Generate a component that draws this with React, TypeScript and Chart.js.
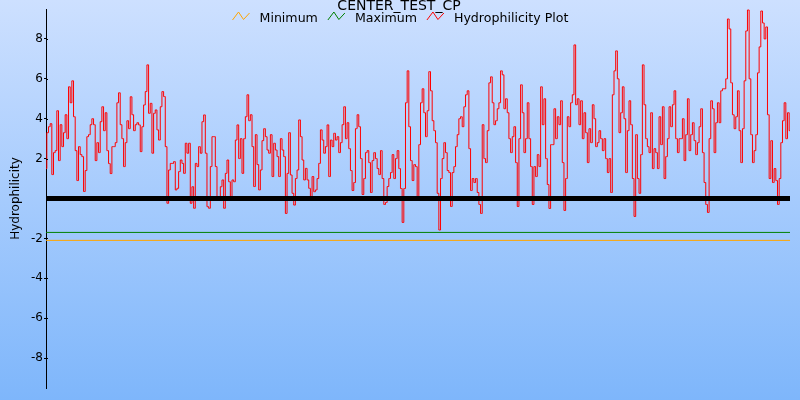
import { useEffect, useRef } from 'react';
import { Chart, registerables } from 'chart.js';

Chart.register(...registerables);

const TITLE = 'CENTER_TEST_CP';
const Y_TITLE = 'Hydrophilicity';
const SERIES_NAMES = ['Minimum', 'Maximum', 'Hydrophilicity Plot'];
const SERIES_COLORS = ['#ffa500', '#008000', '#ff0000'];
const Y_TICKS = [-8, -6, -4, -2, 2, 4, 6, 8];
const Y_MIN = -9.5;
const Y_MAX = 9.5;
const MINIMUM = -2.1;
const MAXIMUM = -1.7;
const BASELINE = 0;

const HYDRO = [
  // x 47-140
  1.5, 3.3, 3.6, 3.75, 1.2, 2.3, 2.4, 4.4, 1.9, 3.7,
  2.6, 3.3, 4.2, 3.0, 5.6, 4.8, 5.9, 4.1, 2.4, 0.9,
  2.6, 2.2, 2.1, 0.35, 1.4, 3.1, 3.2, 3.7, 4.0, 3.7,
  1.9, 2.8, 2.3, 3.85, 4.6, 3.4, 4.3, 2.4, 1.75, 1.25,
  2.6, 2.6, 2.8, 4.8, 5.3, 3.7, 3.0, 1.6, 2.8, 3.9,
  3.5, 5.1, 4.2, 3.4, 3.7, 3.8,
  // x 140-240
  3.69, 2.35, 3.6, 4.69, 5.36, 6.7, 4.27, 4.77, 2.27, 4.27,
  4.44, 3.44, 2.93, 4.6, 5.36, 5.11, 2.6, -0.24, 1.43, 1.76,
  1.76, 1.85, 0.43, 0.51, 1.35, 1.93, 1.76, 1.26, 2.77, 2.27,
  2.77, -0.24, 0.59, -0.49, 1.76, 1.6, 2.6, 2.27, 3.85, 4.19,
  2.27, -0.41, -0.49, 1.6, 3.1, 3.1, 1.6, 0.09, -0.07, 0.59,
  0.93, -0.49, 1.26, 1.93, 0.84, 0.09, 0.93, 0.84, 2.93, 3.69,
  // x 240-340
  2.0, 3.0, 1.26, 3.0, 4.1, 5.2, 3.9, 4.2, 2.6, 0.6,
  3.2, 1.7, 0.43, 1.43, 2.9, 3.5, 3.1, 2.43, 2.27, 3.2,
  1.1, 2.77, 2.43, 2.1, 1.1, 3.0, 2.43, 2.1, -0.75, 1.26,
  3.3, 1.18, 0.26, -0.33, 1.0, 1.43, 3.94, 3.1, 1.93, 0.93,
  1.51, 0.93, 0.51, 0.1, 1.1, 0.34, 0.43, 1.0, 1.76, 3.44,
  2.93, 2.27, 2.6, 3.69, 1.1, 2.93, 2.6, 3.27, 2.93, 3.1,
  // x 340-440
  2.3, 2.8, 3.7, 4.6, 3.0, 3.8, 2.5, 1.4, 0.4, 0.8,
  3.5, 4.2, 3.6, 2.0, 0.2, 1.0, 2.3, 2.4, 1.8, 0.3,
  1.9, 2.3, 2.0, 1.5, 1.2, 2.4, 1.0, -0.3, -0.2, 0.6,
  1.0, 1.3, 2.2, 1.0, 2.0, 2.4, 1.5, 0.5, -1.2, 0.5,
  4.8, 6.4, 3.6, 1.9, 0.9, 1.7, 1.6, -0.1, 2.7, 4.8,
  5.5, 4.3, 3.1, 4.4, 6.36, 5.4, 3.9, 3.4, 2.8, 0.26,
  // x 440-540
  -1.58, 1.0, 2.0, 2.8, 2.3, 1.4, 1.3, -0.4, 1.3, 1.6,
  2.6, 3.2, 4.0, 4.1, 3.6, 4.6, 5.2, 5.4, 2.5, 0.4,
  1.0, 0.8, 1.0, 0.3, -0.3, -0.75, 3.7, 2.0, 1.8, 3.4,
  5.8, 6.1, 4.8, 3.7, 3.9, 4.5, 4.8, 6.4, 6.2, 4.5,
  5.0, 4.3, 3.0, 2.3, 3.1, 3.6, 1.8, -0.4, 3.0, 5.7,
  4.3, 2.3, 3.0, 4.8, 3.0, 1.6, -0.3, 1.6, 1.1, 2.2,
  // x 540-640
  1.6, 5.6, 3.7, 5.0, 2.0, 0.7, -0.5, 2.7, 2.7, 4.5,
  3.0, 4.1, 3.7, 4.9, 1.8, -0.6, 1.0, 4.1, 3.6, 4.8,
  5.2, 7.7, 4.7, 5.0, 3.7, 4.9, 3.0, 4.3, 3.3, 1.8,
  3.5, 2.8, 4.7, 4.0, 2.6, 2.8, 3.4, 3.0, 2.4, 3.0,
  2.0, 1.3, 2.0, 0.3, 5.2, 6.4, 7.4, 6.0, 3.3, 4.3,
  5.6, 4.0, 1.3, 3.4, 4.9, 3.7, 1.0, -0.9, 3.2, 1.0,
  // x 640-740
  0.26, 2.2, 6.7, 4.7, 3.0, 2.6, 2.3, 4.3, 1.5, 2.5,
  2.3, 1.5, 4.1, 2.7, 4.6, 1.0, 2.1, 3.0, 4.6, 3.6,
  4.7, 5.4, 3.0, 2.3, 3.0, 3.0, 4.0, 1.9, 3.2, 5.0,
  2.4, 3.2, 3.8, 2.9, 2.2, 2.8, 3.6, 4.5, 2.3, 0.8,
  -0.3, -0.7, 3.0, 4.9, 4.5, 2.3, 3.8, 4.8, 3.8, 5.4,
  5.5, 5.5, 6.0, 9.0, 8.5, 5.8, 4.2, 3.5, 4.1, 5.4,
  // x 740-790
  3.4, 1.8, 3.5, 5.9, 8.4, 9.45, 6.0, 3.2, 1.8, 2.4,
  3.2, 6.3, 7.6, 9.4, 8.8, 8.0, 8.6, 4.2, 1.0, 2.9,
  0.8, 1.5, 0.9, -0.3, 1.0, 2.8, 3.9, 4.8, 3.0, 4.3,
  3.4,
];

const FONT = '"DejaVu Sans", sans-serif';

const decorPlugin = {
  id: 'decor',
  beforeDraw(chart: any) {
    const { ctx, width, height } = chart;
    const g = ctx.createLinearGradient(0, 0, 0, height);
    g.addColorStop(0, '#cde0ff');
    g.addColorStop(1, '#7eb6fb');
    ctx.save();
    ctx.fillStyle = g;
    ctx.fillRect(0, 0, width, height);
    ctx.restore();
  },
  afterDraw(chart: any) {
    const ctx = chart.ctx;
    const yScale = chart.scales.y;
    ctx.save();
    // small inner tick parts
    ctx.strokeStyle = '#000';
    ctx.lineWidth = 1;
    Y_TICKS.forEach((t) => {
      const py = Math.round(yScale.getPixelForValue(t)) + 0.5;
      ctx.beginPath();
      ctx.moveTo(yScale.right, py);
      ctx.lineTo(yScale.right + 2, py);
      ctx.stroke();
    });
    // title
    ctx.fillStyle = '#000';
    ctx.font = '14px ' + FONT;
    ctx.textAlign = 'center';
    ctx.textBaseline = 'alphabetic';
    ctx.fillText(TITLE, 399, 9.5);
    // legend
    ctx.font = '12.6px ' + FONT;
    const iconW = 17;
    const gap = 10;
    const widths = SERIES_NAMES.map((n) => ctx.measureText(n).width);
    const total =
      widths.reduce((a, w) => a + iconW + gap + w, 0) + gap * (SERIES_NAMES.length - 1);
    let x = 400.5 - total / 2;
    ctx.textAlign = 'left';
    SERIES_NAMES.forEach((n, i) => {
      ctx.strokeStyle = SERIES_COLORS[i];
      ctx.lineWidth = 1;
      ctx.beginPath();
      ctx.moveTo(x, 20);
      ctx.lineTo(x + 6, 12);
      ctx.lineTo(x + 11, 19.5);
      ctx.lineTo(x + 17, 13);
      ctx.stroke();
      x += iconW + gap;
      ctx.fillStyle = '#000';
      ctx.fillText(n, x, 22);
      x += widths[i] + gap;
    });
    ctx.restore();
  },
};

export default function App() {
  const ref = useRef<HTMLCanvasElement | null>(null);

  useEffect(() => {
    document.body.style.margin = '0';
    const canvas = ref.current;
    if (!canvas) return;
    const N = HYDRO.length;
    const chart = new Chart(canvas, {
      type: 'line',
      data: {
        datasets: [
          {
            label: 'Zero',
            data: [
              { x: 0, y: BASELINE },
              { x: N - 1, y: BASELINE },
            ],
            borderColor: '#000000',
            borderWidth: 5,
            pointRadius: 0,
            order: 0,
          },
          {
            label: SERIES_NAMES[0],
            data: [
              { x: 0, y: MINIMUM },
              { x: N - 1, y: MINIMUM },
            ],
            borderColor: SERIES_COLORS[0],
            borderWidth: 1,
            pointRadius: 0,
            order: 1,
          },
          {
            label: SERIES_NAMES[1],
            data: [
              { x: 0, y: MAXIMUM },
              { x: N - 1, y: MAXIMUM },
            ],
            borderColor: SERIES_COLORS[1],
            borderWidth: 1,
            pointRadius: 0,
            order: 1,
          },
          {
            label: SERIES_NAMES[2],
            data: HYDRO.map((v, i) => ({ x: i, y: v })),
            borderColor: SERIES_COLORS[2],
            borderWidth: 1,
            pointRadius: 0,
            stepped: 'middle',
            order: 2,
          },
        ],
      },
      options: {
        animation: false,
        responsive: false,
        events: [],
        layout: { padding: { top: 9, right: 10, bottom: 12, left: 0 } },
        plugins: {
          legend: { display: false },
          title: { display: false },
          tooltip: { enabled: false },
        },
        scales: {
          x: { type: 'linear', min: 0, max: N - 1, display: false },
          y: {
            type: 'linear',
            min: Y_MIN,
            max: Y_MAX,
            afterBuildTicks: (s: any) => {
              s.ticks = Y_TICKS.map((v) => ({ value: v }));
            },
            afterFit: (s: any) => {
              s.width = 46;
            },
            ticks: {
              color: '#000',
              font: { size: 12, family: FONT },
              padding: 1,
            },
            grid: {
              drawOnChartArea: false,
              color: '#000',
              tickLength: 2,
              tickWidth: 1,
            },
            border: { color: '#000', width: 1 },
            title: {
              display: true,
              text: Y_TITLE,
              color: '#000',
              font: { size: 12, family: FONT },
              padding: { top: 9, bottom: 0 },
            },
          },
        },
      },
      plugins: [decorPlugin],
    } as any);
    return () => chart.destroy();
  }, []);

  return (
    <div style={{ width: 800, height: 400 }}>
      <canvas ref={ref} width={800} height={400} style={{ display: 'block' }} />
    </div>
  );
}
